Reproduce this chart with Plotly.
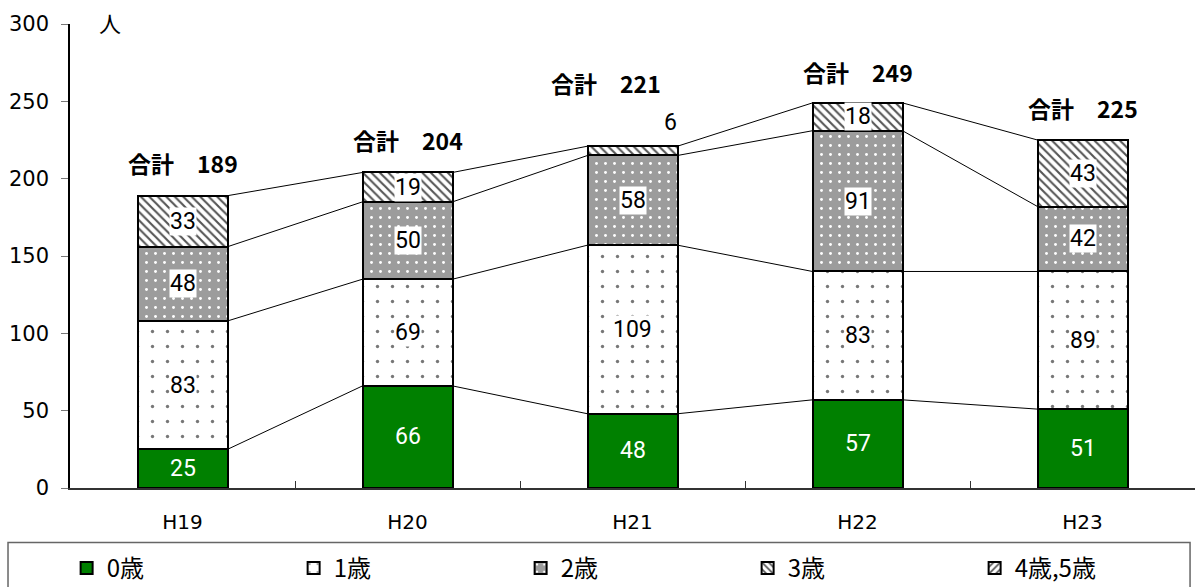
import plotly.graph_objects as go

years = ["H19", "H20", "H21", "H22", "H23"]
age0 = [25, 66, 48, 57, 51]
age1 = [83, 69, 109, 83, 89]
age2 = [48, 50, 58, 91, 42]
age3 = [33, 19, 6, 18, 43]
age45 = [0, 0, 0, 0, 0]
totals = [189, 204, 221, 249, 225]
series_names = ["0歳", "1歳", "2歳", "3歳", "4歳,5歳"]
y_ticks = [0, 50, 100, 150, 200, 250, 300]

series = [age0, age1, age2, age3, age45]
xpos = list(range(len(years)))
bar_w = 0.4

patterns = [
    dict(shape=""),
    dict(shape=".", bgcolor="white", fgcolor="#777777", size=15, solidity=0.04, fillmode="replace"),
    dict(shape=".", bgcolor="#9c9c9c", fgcolor="white", size=9, solidity=0.08, fillmode="replace"),
    dict(shape="\\", bgcolor="white", fgcolor="#555555", size=6, solidity=0.35, fillmode="replace"),
    dict(shape="/", bgcolor="white", fgcolor="#555555", size=6, solidity=0.35, fillmode="replace"),
]
colors = ["#008000", "white", "#9c9c9c", "white", "white"]

fig = go.Figure()
for name, vals, pat, col in zip(series_names, series, patterns, colors):
    fig.add_trace(go.Bar(
        x=xpos, y=vals, name=name, width=bar_w,
        marker=dict(color=col, pattern=pat, line=dict(color="black", width=2.5)),
        hoverinfo="skip",
    ))

# series lines joining the top of each stacked segment between neighbouring bars
cum = []
running = [0] * len(years)
for vals in series[:4]:
    running = [r + v for r, v in zip(running, vals)]
    cum.append(list(running))
for tops in cum:
    for i in range(len(years) - 1):
        fig.add_trace(go.Scatter(
            x=[xpos[i] + bar_w / 2, xpos[i + 1] - bar_w / 2],
            y=[tops[i], tops[i + 1]],
            mode="lines", line=dict(color="black", width=1),
            showlegend=False, hoverinfo="skip",
        ))

label_font = dict(family="Roboto, Liberation Sans, Arial", size=23, color="black")
annotations = []
for s_idx, vals in enumerate(series):
    base = [0] * len(years) if s_idx == 0 else cum[s_idx - 1]
    for i, v in enumerate(vals):
        if v == 0:
            continue
        if v < 10:
            # value too small to fit inside the segment
            annotations.append(dict(x=xpos[i] + 0.17, y=base[i] + v + 15, text=str(v),
                                    showarrow=False, font=label_font))
            continue
        ann = dict(x=xpos[i], y=base[i] + v / 2, text=str(v), showarrow=False)
        if s_idx == 0:
            ann["font"] = dict(label_font, color="white")
        else:
            ann["font"] = label_font
            ann["bgcolor"] = "white"
            ann["borderpad"] = 0
        annotations.append(ann)

total_offsets = [21, 21, 41, 20, 21]
total_shift = [0, 0, -0.12, 0, 0]
for i, t in enumerate(totals):
    annotations.append(dict(
        x=xpos[i] + total_shift[i], y=t + total_offsets[i],
        text="<b>合計　" + str(t) + "</b>", showarrow=False,
        font=dict(family="Noto Sans CJK JP", size=23, color="black"),
    ))

annotations.append(dict(x=0.0356, y=1.005, xref="paper", yref="paper", text="人",
                        xanchor="center", yanchor="middle",
                        showarrow=False, font=dict(family="Noto Sans CJK JP", size=22, color="black")))

fig.update_layout(
    width=1197, height=587,
    margin=dict(l=70, r=2, t=24, b=99, autoexpand=False),
    barmode="stack",
    plot_bgcolor="white", paper_bgcolor="white",
    annotations=annotations,
    shapes=[dict(type="rect", xref="paper", yref="paper",
                 x0=-0.0551, x1=0.9956, y0=-0.1175, y1=-0.215,
                 line=dict(color="#666666", width=1.5), fillcolor="rgba(0,0,0,0)")],
    legend=dict(orientation="h", x=-0.003, y=-0.125, xanchor="left", yanchor="top",
                entrywidth=182, entrywidthmode="pixels", bgcolor="rgba(0,0,0,0)",
                font=dict(family="Noto Sans CJK JP", size=24, color="black"),
                traceorder="normal", itemsizing="constant"),
    xaxis=dict(range=[-0.5, 4.5], tickvals=xpos, ticktext=years, ticks="",
               showline=True, linecolor="#333333", linewidth=1.5, showgrid=False,
               zeroline=False, ticklabelstandoff=15,
               tickfont=dict(family="DejaVu Sans", size=20, color="black"),
               minor=dict(tickvals=[i + 0.5 for i in xpos[:-1]], ticks="inside",
                          ticklen=7, tickcolor="#333333", showgrid=False)),
    yaxis=dict(range=[0, 300], tickvals=y_ticks, ticks="outside", ticklen=7,
               tickcolor="#777777", showline=True, linecolor="black", linewidth=1.5,
               showgrid=False, zeroline=False, ticklabelstandoff=8,
               tickfont=dict(family="DejaVu Sans", size=21, color="black")),
    bargap=0,
)

fig.write_html("out.html")
